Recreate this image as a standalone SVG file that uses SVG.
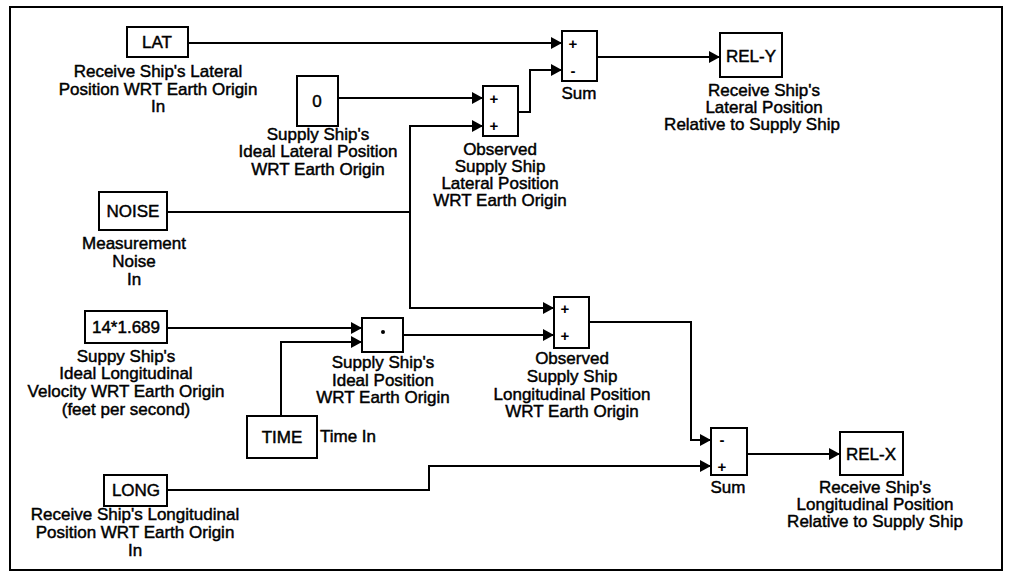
<svg xmlns="http://www.w3.org/2000/svg" width="1014" height="583" viewBox="0 0 1014 583">
<style>
.frame{fill:none;stroke:#000;stroke-width:2}
.box{fill:#fff;stroke:#000;stroke-width:2}
.bt{font-family:"Liberation Sans",Arial,sans-serif;font-size:17px;text-anchor:middle;fill:#000;stroke:#000;stroke-width:0.45}
.lb{font-family:"Liberation Sans",Arial,sans-serif;font-size:17px;text-anchor:middle;fill:#000;stroke:#000;stroke-width:0.45}
.sg{font-family:"Liberation Sans",Arial,sans-serif;font-size:15px;text-anchor:middle;fill:#000;font-weight:bold}
.w{fill:none;stroke:#000;stroke-width:2}
</style>
<defs>
<marker id="ah" markerUnits="userSpaceOnUse" markerWidth="12" markerHeight="12" refX="11" refY="6" orient="auto">
<path d="M0,0 L11,6 L0,12 z" fill="#000"/>
</marker>
</defs>
<rect x="10" y="7" width="992" height="563" fill="#fff" class="frame"/>
<g id="connectors">
<path class="w" d="M188,43 H562" marker-end="url(#ah)"/>
<path class="w" d="M338,98 H483" marker-end="url(#ah)"/>
<path class="w" d="M518,112 H530 V70 H562" marker-end="url(#ah)"/>
<path class="w" d="M167,212 H410"/>
<path class="w" d="M410,212 V126 H483" marker-end="url(#ah)"/>
<path class="w" d="M410,212 V308 H554" marker-end="url(#ah)"/>
<path class="w" d="M597,57 H720" marker-end="url(#ah)"/>
<path class="w" d="M167,328 H362" marker-end="url(#ah)"/>
<path class="w" d="M281,416 V342 H362" marker-end="url(#ah)"/>
<path class="w" d="M403,335 H554" marker-end="url(#ah)"/>
<path class="w" d="M589,322 H691 V440 H711" marker-end="url(#ah)"/>
<path class="w" d="M167,490 H429 V466 H711" marker-end="url(#ah)"/>
<path class="w" d="M747,454 H840" marker-end="url(#ah)"/>
</g>
<g id="lat">
<rect class="box" x="127" y="27" width="61" height="30"/>
<text class="bt" x="157" y="48">LAT</text>
<text class="lb" x="158" y="77">Receive Ship's Lateral</text>
<text class="lb" x="158" y="95">Position WRT Earth Origin</text>
<text class="lb" x="158" y="112">In</text>
</g>
<g id="zero">
<rect class="box" x="297" y="76" width="41" height="50"/>
<text class="bt" x="317" y="107">0</text>
<text class="lb" x="318" y="140">Supply Ship's</text>
<text class="lb" x="318" y="157">Ideal Lateral Position</text>
<text class="lb" x="318" y="175">WRT Earth Origin</text>
</g>
<g id="obs-lat-sum">
<rect class="box" x="483" y="86" width="35" height="50"/>
<text class="sg" x="494" y="104">+</text>
<text class="sg" x="494" y="131">+</text>
<text class="lb" x="500" y="155">Observed</text>
<text class="lb" x="500" y="172">Supply Ship</text>
<text class="lb" x="500" y="189">Lateral Position</text>
<text class="lb" x="500" y="206">WRT Earth Origin</text>
</g>
<g id="sum-y">
<rect class="box" x="562" y="31" width="35" height="50"/>
<text class="sg" x="573" y="49">+</text>
<text class="sg" x="573" y="76">-</text>
<text class="lb" x="579" y="99">Sum</text>
</g>
<g id="rel-y">
<rect class="box" x="720" y="33" width="62" height="44"/>
<text class="bt" x="751" y="62">REL-Y</text>
<text class="lb" x="764" y="96">Receive Ship's</text>
<text class="lb" x="764" y="113">Lateral Position</text>
<text class="lb" x="752" y="130">Relative to Supply Ship</text>
</g>
<g id="noise">
<rect class="box" x="99" y="192" width="68" height="38"/>
<text class="bt" x="133" y="217">NOISE</text>
<text class="lb" x="134" y="249">Measurement</text>
<text class="lb" x="134" y="267">Noise</text>
<text class="lb" x="134" y="285">In</text>
</g>
<g id="velocity">
<rect class="box" x="85" y="311" width="82" height="32"/>
<text class="bt" x="126" y="333">14*1.689</text>
<text class="lb" x="126" y="362">Suppy Ship's</text>
<text class="lb" x="126" y="379">Ideal Longitudinal</text>
<text class="lb" x="126" y="397">Velocity WRT Earth Origin</text>
<text class="lb" x="126" y="415">(feet per second)</text>
</g>
<g id="product">
<rect class="box" x="362" y="318" width="41" height="34"/>
<circle cx="383" cy="332" r="2" fill="#000"/>
<text class="lb" x="383" y="368">Supply Ship's</text>
<text class="lb" x="383" y="386">Ideal Position</text>
<text class="lb" x="383" y="403">WRT Earth Origin</text>
</g>
<g id="time">
<rect class="box" x="247" y="416" width="70" height="42"/>
<text class="bt" x="282" y="443">TIME</text>
<text class="lb" x="320" y="442" style="text-anchor:start">Time In</text>
</g>
<g id="obs-long-sum">
<rect class="box" x="554" y="297" width="35" height="51"/>
<text class="sg" x="565" y="314">+</text>
<text class="sg" x="565" y="341">+</text>
<text class="lb" x="572" y="364">Observed</text>
<text class="lb" x="572" y="382">Supply Ship</text>
<text class="lb" x="572" y="400">Longitudinal Position</text>
<text class="lb" x="572" y="417">WRT Earth Origin</text>
</g>
<g id="long">
<rect class="box" x="104" y="475" width="63" height="31"/>
<text class="bt" x="136" y="496">LONG</text>
<text class="lb" x="135" y="520">Receive Ship's Longitudinal</text>
<text class="lb" x="135" y="538">Position WRT Earth Origin</text>
<text class="lb" x="135" y="556">In</text>
</g>
<g id="sum-x">
<rect class="box" x="711" y="428" width="36" height="47"/>
<text class="sg" x="722" y="445">-</text>
<text class="sg" x="722" y="472">+</text>
<text class="lb" x="728" y="493">Sum</text>
</g>
<g id="rel-x">
<rect class="box" x="840" y="432" width="63" height="43"/>
<text class="bt" x="871" y="460">REL-X</text>
<text class="lb" x="875" y="493">Receive Ship's</text>
<text class="lb" x="875" y="510">Longitudinal Position</text>
<text class="lb" x="875" y="527">Relative to Supply Ship</text>
</g>
</svg>
